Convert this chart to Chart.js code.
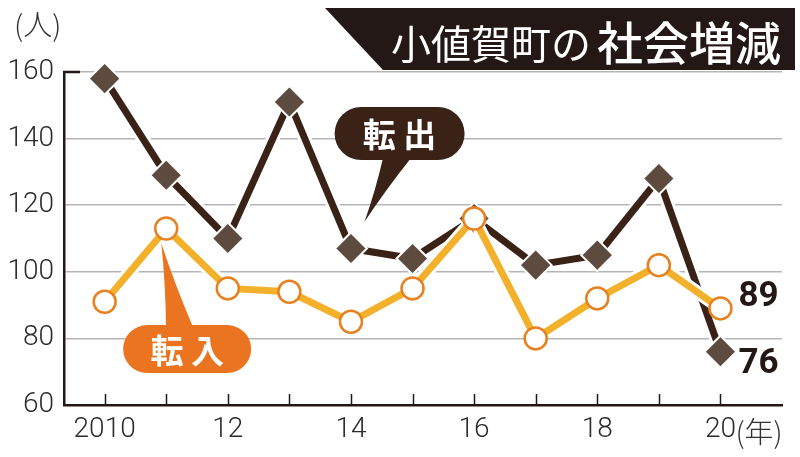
<!DOCTYPE html>
<html lang="ja">
<head>
<meta charset="UTF-8">
<title>小値賀町の社会増減</title>
<style>
  html, body { margin: 0; padding: 0; background: #fff; }
  #wrap { width: 800px; height: 457px; }
</style>
</head>
<body>
<div id="wrap"><canvas id="chart" width="800" height="457"></canvas></div>
<script src="https://cdn.jsdelivr.net/npm/chart.js"></script>
<script>
// data
const years = [2010, 2011, 2012, 2013, 2014, 2015, 2016, 2017, 2018, 2019, 2020];
const outMoves = [158, 129, 110, 151, 107, 104, 116, 102, 105, 128, 76];   // 転出
const inMoves  = [91, 113, 95, 94, 85, 95, 116, 80, 92, 102, 89];         // 転入
const yTicks = [60, 80, 100, 120, 140, 160];
const xTickLabels = ['2010', '', '12', '', '14', '', '16', '', '18', '', '20'];

const DARK = '#3a2216';
const DIAMOND = '#5e4b40';
const ORANGE_LINE = '#f3b12b';
const ORANGE_RING = '#e8801f';
const BUBBLE_ORANGE = '#ea7420';
const INK = '#231815';
const NUM = "Roboto, 'Liberation Sans', sans-serif";
const JP = "'Noto Sans CJK JP', sans-serif";

const toXY = arr => arr.map((v, i) => ({ x: years[i], y: v }));

// draws a speech bubble (pill box + tail) in pixel space
function bubble(ctx, cx, cy, w, h, baseA, baseB, tipX, tipY, color) {
    const x = cx - w / 2, y = cy - h / 2, r = h / 2;
    ctx.save();
    ctx.fillStyle = color;
    ctx.beginPath();
    ctx.moveTo(x + r, y);
    ctx.lineTo(x + w - r, y);
    ctx.arc(x + w - r, y + r, r, -Math.PI / 2, Math.PI / 2);
    ctx.lineTo(x + r, y + h);
    ctx.arc(x + r, y + r, r, Math.PI / 2, Math.PI * 1.5);
    ctx.closePath();
    ctx.fill();
    const edgeY = tipY > cy ? y + h - 2 : y + 2;
    ctx.beginPath();
    ctx.moveTo(baseA, edgeY);
    ctx.quadraticCurveTo((baseA + tipX) / 2 + 2, (edgeY + tipY) / 2, tipX, tipY);
    ctx.quadraticCurveTo((baseB + tipX) / 2 - 2, (edgeY + tipY) / 2, baseB, edgeY);
    ctx.closePath();
    ctx.fill();
    ctx.restore();
}

const decor = {
    id: 'decor',
    beforeDatasetsDraw(chart) {
        const { ctx, scales: { x, y } } = chart;
        const y0 = y.getPixelForValue(60);
        ctx.save();
        ctx.strokeStyle = INK;
        ctx.lineWidth = 1.5;
        years.forEach(v => {
            const px = Math.round(x.getPixelForValue(v)) + 0.5;
            ctx.beginPath();
            ctx.moveTo(px, y0);
            ctx.lineTo(px, y0 - 11);
            ctx.stroke();
        });
        // small cap tick at 160
        const yTop = y.getPixelForValue(160);
        ctx.lineWidth = 2.5;
        ctx.beginPath();
        ctx.moveTo(x.left - 1, yTop);
        ctx.lineTo(x.left + 16, yTop);
        ctx.stroke();
        ctx.restore();
    },
    afterDatasetsDraw(chart) {
        const { ctx, scales: { x, y } } = chart;
        ctx.save();

        // 転出 bubble
        bubble(ctx, x.getPixelForValue(2014.79), y.getPixelForValue(141.5), 130, 53,
            383, 411, x.getPixelForValue(2014.22), y.getPixelForValue(115), DARK);
        // 転入 bubble
        bubble(ctx, x.getPixelForValue(2011.34), y.getPixelForValue(76.8), 128, 48,
            166, 193, x.getPixelForValue(2010.92), y.getPixelForValue(108.6), BUBBLE_ORANGE);

        ctx.fillStyle = '#fff';
        ctx.textAlign = 'center';
        ctx.textBaseline = 'middle';
        ctx.font = `bold 33px ${JP}`;
        ctx.fillText('転 出', x.getPixelForValue(2014.79), y.getPixelForValue(141.5) + 1);
        ctx.fillText('転 入', x.getPixelForValue(2011.34), y.getPixelForValue(76.8) + 1);

        // end values
        const last = years.length - 1;
        const lx = x.getPixelForValue(years[last]) + 18;
        ctx.fillStyle = INK;
        ctx.textAlign = 'left';
        ctx.font = `bold 35px ${NUM}`;
        ctx.fillText(String(inMoves[last]), lx, y.getPixelForValue(inMoves[last]) - 11);
        ctx.fillText(String(outMoves[last]), lx, y.getPixelForValue(outMoves[last]) + 13);

        // unit labels
        ctx.fillStyle = '#333';
        ctx.font = `300 29px ${JP}`;
        ctx.fillText('(人)', 14, 25);
        ctx.fillText('(年)', x.getPixelForValue(2020) + 15, 432);

        // title banner
        ctx.fillStyle = INK;
        ctx.beginPath();
        ctx.moveTo(325, 8);
        ctx.lineTo(795, 8);
        ctx.lineTo(795, 70);
        ctx.lineTo(383, 70);
        ctx.closePath();
        ctx.fill();
        ctx.fillStyle = '#fff';
        ctx.textBaseline = 'alphabetic';
        ctx.font = `400 40px ${JP}`;
        ctx.fillText('小値賀町の', 391, 59);
        ctx.font = `500 46px ${JP}`;
        ctx.fillText('社会増減', 597, 60);
        ctx.restore();
    }
};

new Chart(document.getElementById('chart'), {
    type: 'line',
    data: {
        datasets: [
            {
                label: '転入',
                data: toXY(inMoves),
                borderColor: ORANGE_LINE,
                borderWidth: 7,
                pointStyle: 'circle',
                pointRadius: 11,
                pointBorderWidth: 2.5,
                pointBorderColor: ORANGE_RING,
                pointBackgroundColor: '#fff',
                tension: 0,
                clip: false,
                order: 1
            },
            {
                label: '転入 outline',
                data: toXY(inMoves),
                borderColor: '#fff',
                borderWidth: 13,
                pointRadius: 0,
                tension: 0,
                clip: false,
                order: 2
            },
            {
                label: '転出',
                data: toXY(outMoves),
                borderColor: DARK,
                borderWidth: 7,
                pointStyle: 'rectRot',
                pointRadius: 16,
                pointBorderWidth: 2,
                pointBorderColor: '#fff',
                pointBackgroundColor: DIAMOND,
                tension: 0,
                clip: false,
                order: 3
            },
            {
                label: '転出 outline',
                data: toXY(outMoves),
                borderColor: '#fff',
                borderWidth: 13,
                pointRadius: 0,
                tension: 0,
                clip: false,
                order: 4
            }
        ]
    },
    options: {
        responsive: false,
        animation: false,
        layout: { padding: { top: 72, right: 15, left: 0, bottom: 0 } },
        plugins: { legend: { display: false }, tooltip: { enabled: false } },
        scales: {
            x: {
                type: 'linear',
                min: 2009.34,
                max: 2021,
                afterBuildTicks: s => { s.ticks = years.map(v => ({ value: v })); },
                afterFit: s => { s.height = 52; },
                grid: { drawOnChartArea: false, drawTicks: false },
                border: { display: true, color: INK, width: 2.5 },
                ticks: {
                    padding: 8,
                    maxRotation: 0,
                    autoSkip: false,
                    color: '#2b2b2b',
                    font: { family: NUM, size: 28, weight: 300 },
                    callback: (v, i) => xTickLabels[i]
                }
            },
            y: {
                min: 60,
                max: 160,
                afterBuildTicks: s => { s.ticks = yTicks.map(v => ({ value: v })); },
                afterFit: s => { s.width = 64; },
                grid: {
                    drawTicks: false,
                    lineWidth: 1.5,
                    color: c => c.tick && c.tick.value === 60 ? 'rgba(0,0,0,0)' : '#b5b5b5'
                },
                border: { display: true, color: INK, width: 2.5 },
                ticks: {
                    padding: 10,
                    color: '#2b2b2b',
                    font: { family: NUM, size: 28, weight: 300 }
                }
            }
        }
    },
    plugins: [decor]
});
</script>
</body>
</html>
